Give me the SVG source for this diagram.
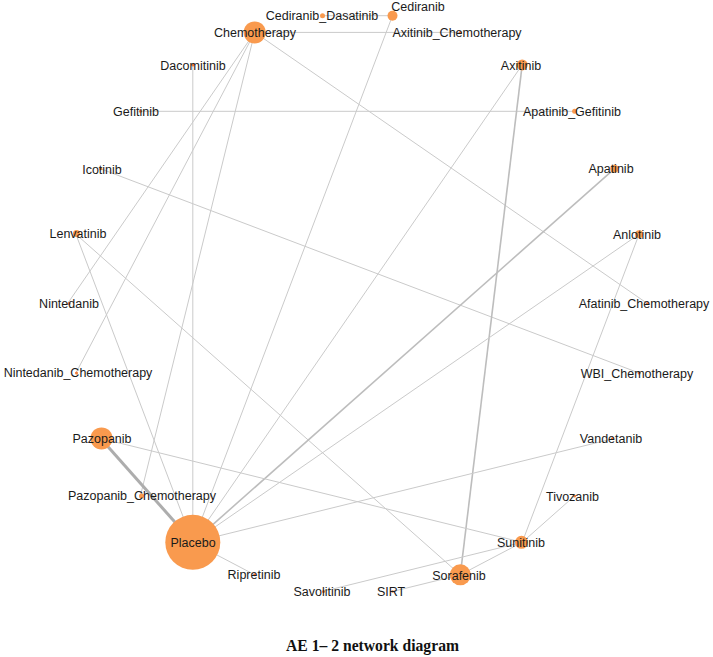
<svg xmlns="http://www.w3.org/2000/svg" width="713" height="657" viewBox="0 0 713 657">
<style>
.e{stroke:#cacaca;stroke-width:1;fill:none}
.e2{stroke:#bdbdbd;stroke-width:1.6;fill:none}
.e3{stroke:#adadad;stroke-width:3;fill:none}
.n{fill:#f99a4e}
.s{fill:#ee7a38}
.l{font-family:"Liberation Sans",Arial,sans-serif;font-size:12.5px;fill:#1a1a1a;text-anchor:middle}
.t{font-family:"Liberation Serif","Times New Roman",serif;font-size:16.5px;font-weight:bold;fill:#111;text-anchor:middle}
</style>
<rect width="713" height="657" fill="#fff"/>
<g id="edges">
<line class="e" x1="254.7" y1="32.4" x2="460.3" y2="32.4"/>
<line class="e" x1="322.5" y1="15.7" x2="392.5" y2="15.7"/>
<line class="e" x1="254.7" y1="32.4" x2="67.5" y2="303.6"/>
<line class="e" x1="254.7" y1="32.4" x2="75.9" y2="373.0"/>
<line class="e" x1="254.7" y1="32.4" x2="140.4" y2="495.9"/>
<line class="e" x1="254.7" y1="32.4" x2="647.5" y2="303.6"/>
<line class="e" x1="192.8" y1="64.9" x2="192.8" y2="542.3"/>
<line class="e" x1="140.4" y1="111.3" x2="574.6" y2="111.3"/>
<line class="e" x1="100.7" y1="168.8" x2="639.1" y2="373.0"/>
<line class="e" x1="75.9" y1="234.2" x2="192.8" y2="542.3"/>
<line class="e" x1="75.9" y1="234.2" x2="460.3" y2="574.8"/>
<line class="e" x1="392.5" y1="15.7" x2="192.8" y2="542.3"/>
<line class="e" x1="522.2" y1="64.9" x2="192.8" y2="542.3"/>
<line class="e2" x1="522.2" y1="64.9" x2="460.3" y2="574.8"/>
<line class="e2" x1="614.3" y1="168.8" x2="192.8" y2="542.3"/>
<line class="e" x1="639.1" y1="234.2" x2="192.8" y2="542.3"/>
<line class="e" x1="639.1" y1="234.2" x2="522.2" y2="542.3"/>
<line class="e" x1="614.3" y1="438.4" x2="192.8" y2="542.3"/>
<line class="e3" x1="100.7" y1="438.4" x2="192.8" y2="542.3"/>
<line class="e" x1="100.7" y1="438.4" x2="522.2" y2="542.3"/>
<line class="e" x1="574.6" y1="495.9" x2="522.2" y2="542.3"/>
<line class="e" x1="522.2" y1="542.3" x2="460.3" y2="574.8"/>
<line class="e" x1="322.5" y1="591.5" x2="522.2" y2="542.3"/>
<line class="e" x1="392.5" y1="591.5" x2="460.3" y2="574.8"/>
<line class="e" x1="192.8" y1="542.3" x2="254.7" y2="574.8"/>
</g>
<g id="Afatinib_Chemotherapy"><circle class="s" cx="647.5" cy="303.6" r="1.5"/><text class="l" x="644" y="308">Afatinib_Chemotherapy</text></g>
<g id="Anlotinib"><circle class="n" cx="639.1" cy="234.2" r="4"/><text class="l" x="637" y="239">Anlotinib</text></g>
<g id="Apatinib"><circle class="n" cx="614.3" cy="168.8" r="4"/><text class="l" x="611" y="173">Apatinib</text></g>
<g id="Apatinib_Gefitinib"><circle class="n" cx="574.6" cy="111.3" r="2.5"/><text class="l" x="572" y="115.5">Apatinib_Gefitinib</text></g>
<g id="Axitinib"><circle class="n" cx="522.2" cy="64.9" r="5.5"/><text class="l" x="521" y="69.5">Axitinib</text></g>
<g id="Axitinib_Chemotherapy"><circle class="s" cx="460.3" cy="32.4" r="1.5"/><text class="l" x="457" y="37">Axitinib_Chemotherapy</text></g>
<g id="Cediranib"><circle class="n" cx="392.5" cy="15.7" r="5"/><text class="l" x="418" y="10.5">Cediranib</text></g>
<g id="Cediranib_Dasatinib"><circle class="n" cx="322.5" cy="15.7" r="2.5"/><text class="l" x="322" y="20">Cediranib_Dasatinib</text></g>
<g id="Chemotherapy"><circle class="n" cx="254.7" cy="32.4" r="11"/><text class="l" x="255" y="37">Chemotherapy</text></g>
<g id="Dacomitinib"><circle class="s" cx="192.8" cy="64.9" r="1.5"/><text class="l" x="193" y="69.5">Dacomitinib</text></g>
<g id="Gefitinib"><circle class="s" cx="140.4" cy="111.3" r="1.5"/><text class="l" x="136" y="115.5">Gefitinib</text></g>
<g id="Icotinib"><circle class="s" cx="100.7" cy="168.8" r="1.5"/><text class="l" x="102" y="173.5">Icotinib</text></g>
<g id="Lenvatinib"><circle class="n" cx="76.5" cy="233.5" r="3.5"/><text class="l" x="78" y="238">Lenvatinib</text></g>
<g id="Nintedanib"><circle class="s" cx="69" cy="303.6" r="1.5"/><text class="l" x="69" y="308">Nintedanib</text></g>
<g id="Nintedanib_Chemotherapy"><circle class="s" cx="76.5" cy="373" r="1.5"/><text class="l" x="78" y="377">Nintedanib_Chemotherapy</text></g>
<g id="Pazopanib"><circle class="n" cx="101.5" cy="438.4" r="11"/><text class="l" x="102" y="443">Pazopanib</text></g>
<g id="Pazopanib_Chemotherapy"><circle class="n" cx="141.5" cy="495.9" r="2.5"/><text class="l" x="142" y="500">Pazopanib_Chemotherapy</text></g>
<g id="Placebo"><circle class="n" cx="192.8" cy="542.3" r="27.5"/><text class="l" x="193" y="547">Placebo</text></g>
<g id="Ripretinib"><circle class="s" cx="254.7" cy="574.8" r="1.5"/><text class="l" x="254" y="579">Ripretinib</text></g>
<g id="Savolitinib"><circle class="s" cx="323.5" cy="591.5" r="1.5"/><text class="l" x="322" y="596">Savolitinib</text></g>
<g id="SIRT"><circle class="s" cx="392.5" cy="591.5" r="1.2"/><text class="l" x="391" y="596">SIRT</text></g>
<g id="Sorafenib"><circle class="n" cx="460.3" cy="574.8" r="10.5"/><text class="l" x="459" y="579.5">Sorafenib</text></g>
<g id="Sunitinib"><circle class="n" cx="521.5" cy="542.3" r="6.5"/><text class="l" x="521" y="547">Sunitinib</text></g>
<g id="Tivozanib"><circle class="s" cx="574.6" cy="495.9" r="1.5"/><text class="l" x="572.5" y="500.5">Tivozanib</text></g>
<g id="Vandetanib"><circle class="s" cx="612.5" cy="438.4" r="1.5"/><text class="l" x="611" y="443">Vandetanib</text></g>
<g id="WBI_Chemotherapy"><circle class="s" cx="639.1" cy="373" r="1.5"/><text class="l" x="637" y="377.5">WBI_Chemotherapy</text></g>
<text class="t" x="372.5" y="651" textLength="173" lengthAdjust="spacingAndGlyphs">AE 1– 2 network diagram</text>
</svg>
